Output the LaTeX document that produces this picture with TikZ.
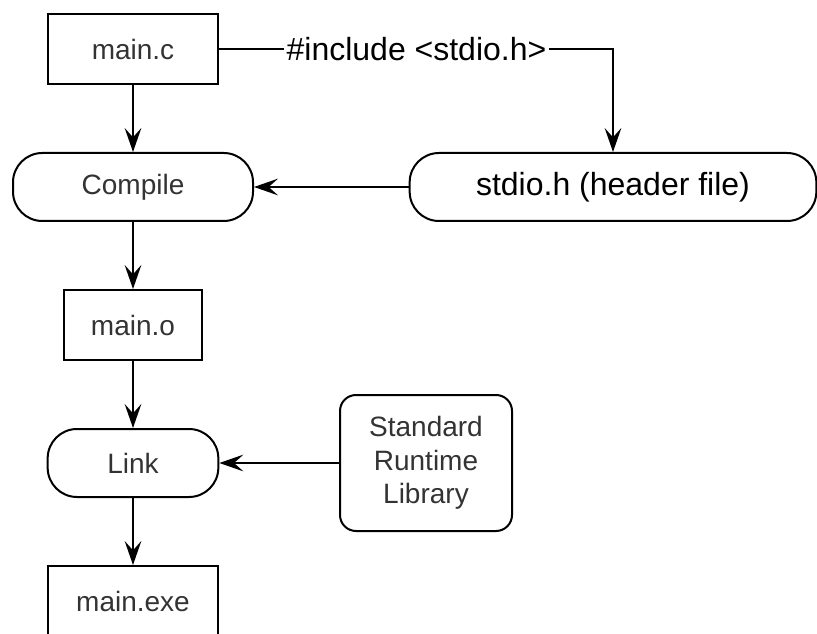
\documentclass[tikz,border=0pt]{standalone}
\usepackage{fontspec}
\setmainfont{Liberation Sans}
\usetikzlibrary{arrows.meta}

\tikzset{every picture/.style={line width=0.75pt}}
\tikzset{
  filebox/.style={draw, line width=1.5pt, minimum height=52.5pt, inner sep=0.75pt,
    font=\fontsize{21}{25}\selectfont, text=black!80},
  stepoval/.style={draw, line width=1.5pt, rounded corners=22pt, minimum height=51pt,
    inner sep=0.75pt, font=\fontsize{21}{25}\selectfont, text=black!80},
  flow/.style={line width=1.5pt, -{Stealth[length=18pt,width=12.5pt,inset=7pt]}},
}

\begin{document}
\begin{tikzpicture}[x=0.75pt,y=0.75pt,yscale=-1,xscale=1]
%set diagram at 817 x 634, the last box runs off the bottom
\clip (0,0) rectangle (817,634);

%Shape: Rectangle [main.c]
\node [filebox, minimum width=128pt] (mainc) at (133,49.5) {main.c};
%Shape: Rounded Rect [Compile]
\node [stepoval, minimum width=180pt] (compile) at (133,187) {Compile};
%Shape: Rounded Rect [stdio.h]
\node [stepoval, minimum width=305pt, text=black, font=\fontsize{24}{28}\selectfont] (stdio) at (613,187) {stdio.h (header file)};
%Shape: Rectangle [main.o]
\node [filebox, minimum width=103.5pt] (maino) at (133,325) {main.o};
%Shape: Rounded Rect [Link]
\node [stepoval, minimum width=128pt] (link) at (133,463) {Link};
%Shape: Rounded Rect [library]
\node [draw, line width=1.5pt, rounded corners=12pt, minimum width=129pt, minimum height=102pt,
  align=center, font=\fontsize{21}{25}\selectfont, text=black!80] (stdlib) at (426,463) {Standard\\Runtime\\Library};
%Shape: Rectangle [main.exe]
\node [filebox, minimum width=128pt] (mainexe) at (133,601) {main.exe};

% Text Node
\node [inner sep=1.5pt, font=\fontsize{24}{28}\selectfont] (inc) at (416.5,49.5) {\#include <stdio.h>};

%Straight Lines
\draw [line width=1.5pt] (mainc.east) -- (inc.west) ;
\draw [flow] (inc.east) -| (stdio.north) ;
\draw [flow] (mainc.south) -- (compile.north) ;
\draw [flow] (stdio.west) -- (compile.east) ;
\draw [flow] (compile.south) -- (maino.north) ;
\draw [flow] (maino.south) -- (link.north) ;
\draw [flow] (stdlib.west) -- (link.east) ;
\draw [flow] (link.south) -- (mainexe.north) ;

\end{tikzpicture}
\end{document}
